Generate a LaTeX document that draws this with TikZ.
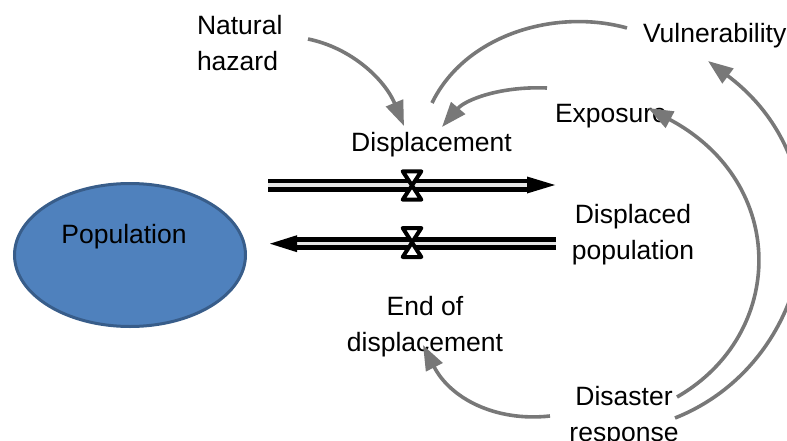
\documentclass[tikz,border=0pt]{standalone}
\usepackage{fontspec}
\setmainfont{Liberation Sans}
\usetikzlibrary{arrows.meta,calc,shapes.geometric}
\definecolor{linkgray}{HTML}{787878}
\definecolor{popfill}{HTML}{4F81BD}
\definecolor{popedge}{HTML}{385D8A}
\definecolor{pipegap}{HTML}{E6E6E6}
\newcommand\twoline[3]{\begin{tabular}[t]{@{}#1@{}}#2\\#3\end{tabular}}

\begin{document}
\begin{tikzpicture}[x=1pt,y=-1pt,
  lbl/.style={inner sep=0pt, outer sep=0pt, font=\fontsize{26.5}{36}\selectfont},
  link/.style={draw=linkgray, line width=3.6pt,
    -{Triangle[length=25pt,width=18pt]}},
  stock/.style={ellipse, draw=popedge, fill=popfill, line width=3pt,
    minimum width=231pt, minimum height=143pt, inner sep=0pt},
  pipe/.style={draw=black, line width=4.9pt, double=pipegap,
    double distance=3.2pt},
  valve/.style={draw=black, fill=white, line width=4pt, line join=round}]

\useasboundingbox (0,0) rectangle (787,441);

% stock
\node[stock] (pop) at (130,255) {};
\node[lbl, anchor=base] (poplbl) at (124,243) {Population};

% labels
\node[lbl, anchor=base west] (haz) at (197,35) {\twoline{l}{Natural}{hazard}};
\node[lbl, anchor=base] (disp) at (431.5,152) {Displacement};
\node[lbl, anchor=base west] (vul) at (643,43) {Vulnerability};
\node[lbl, anchor=base west] (expo) at (555,123) {Exposure};
\node[lbl, anchor=base] (dpop) at (633,223) {\twoline{c}{Displaced}{population}};
\node[lbl, anchor=base] (endd) at (425,315) {\twoline{c}{End of}{displacement}};
\node[lbl, anchor=base] (resp) at (624,405) {\twoline{c}{Disaster}{response}};

% flow pipes: outflow (top) and return flow (bottom)
\coordinate (f1s) at (268,185);
\coordinate (f1e) at (527,185);
\coordinate (f1t) at (555,185);
\coordinate (f2s) at (556,243.7);
\coordinate (f2e) at (297,243.7);
\coordinate (f2t) at (270,243.7);
\coordinate (v1) at (412,185.5);
\coordinate (v2) at (412,242.5);

\draw[pipe] (f1s) -- (f1e);
\fill ($(f1e)+(0,-8.5)$) -- (f1t) -- ($(f1e)+(0,8.5)$) -- cycle;
\draw[pipe] (f2s) -- (f2e);
\fill ($(f2e)+(0,-8.5)$) -- (f2t) -- ($(f2e)+(0,8.5)$) -- cycle;

\begin{scope}[shift={(v1)}]
  \draw[valve] (-9.3,-14.2) -- (9.3,-14.2) -- (-9.3,14.2) -- (9.3,14.2) -- cycle;
\end{scope}
\begin{scope}[shift={(v2)}]
  \draw[valve] (-9.3,-14.5) -- (9.3,-14.5) -- (-9.3,14.5) -- (9.3,14.5) -- cycle;
\end{scope}

% causal links
\draw[link] ($(haz.base west)+(111,4)$)
  .. controls (352,48) and (385,80) .. ($(disp.base)+(-27.5,-26)$);
\draw[link, arrows=-] ($(vul.base west)+(-16,-15)$)
  .. controls (555,8) and (465,35) .. ($(disp.base)+(0.5,-49)$);
\draw[link] ($(expo.base west)+(-8,-35)$)
  .. controls (500,86) and (465,100) .. ($(disp.base)+(10.5,-25)$);
\draw[link] ($(resp.base)+(53,-8)$)
  .. controls (786,334.5) and (789,183) .. ($(expo.base west)+(93,-15)$);
\draw[link] ($(resp.base)+(51,13)$)
  .. controls (814.5,362.5) and (852,169) .. ($(vul.base west)+(65,18)$);
\draw[link] ($(resp.base)+(-74,11)$)
  .. controls (495,422) and (450,398) .. ($(endd.base)+(-2,30)$);

\end{tikzpicture}
\end{document}
